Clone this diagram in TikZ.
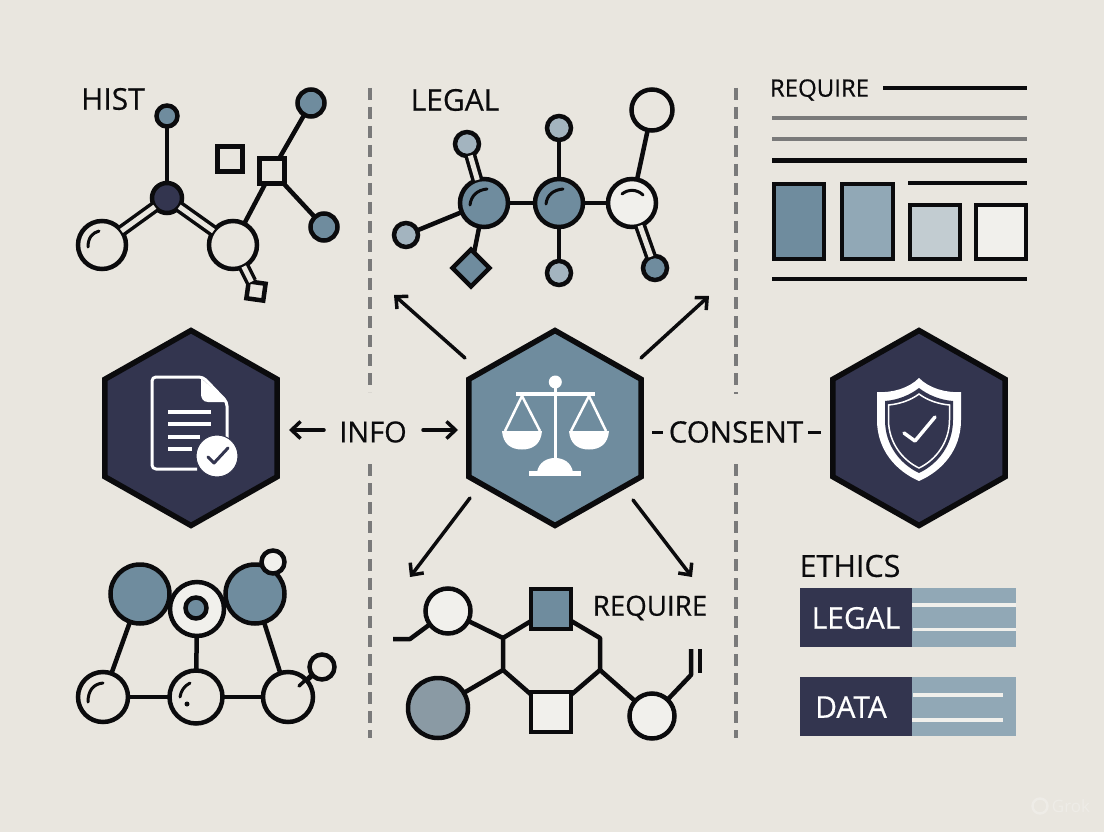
\documentclass[tikz,border=0pt]{standalone}
\usepackage{fontspec}
\setmainfont{Open Sans}
\newfontfamily\labfont[FakeBold=0.5]{Open Sans}
\usetikzlibrary{arrows.meta,shapes.geometric}
\definecolor{bgc}{HTML}{E9E6DF}
\definecolor{ink}{HTML}{0B0B0D}
\definecolor{navy}{HTML}{33354F}
\definecolor{teal}{HTML}{6F8C9E}
\definecolor{mist}{HTML}{A3B4BF}
\definecolor{steel}{HTML}{91A8B6}
\definecolor{pale}{HTML}{F1F0EC}
\definecolor{dashc}{HTML}{7A7A7A}
\definecolor{wmark}{HTML}{EEECE7}
\tikzset{
  atom/.style={circle,draw=ink,line width=4.5pt,inner sep=0pt,outer sep=0pt,minimum size=#1},
  sq/.style={rectangle,draw=ink,line width=4.5pt,inner sep=0pt,outer sep=0pt,minimum size=#1},
  bond/.style={draw=ink,line width=4.5pt},
  dbl/.style={draw=ink,line width=3.5pt,double=bgc,double distance=5pt},
  gloss/.style={draw=ink,line width=3pt,line cap=round},
  hexa/.style={regular polygon,regular polygon sides=6,shape border rotate=30,draw=ink,line width=5.5pt,fill=#1,minimum size=195pt,inner sep=0pt,outer sep=0pt,xscale=1.02,transform shape},
  sep/.style={draw=dashc,line width=3.5pt,dash pattern=on 12pt off 7pt},
  flow/.style={draw=ink,line width=3.5pt,line cap=round,-{Straight Barb[length=9pt,width=17pt,line width=3.5pt]}},
  label/.style={text=ink,inner sep=0pt,font=\labfont\fontsize{#1}{#1}\selectfont},
  rule/.style={draw=ink,line width=4.5pt},
  grule/.style={draw=dashc,line width=4pt},
  box/.style={rectangle,draw=ink,line width=4.5pt,inner sep=0pt,outer sep=0pt},
  wline/.style={draw=white,line width=3.5pt},
}
\begin{document}
\begin{tikzpicture}[x=1pt,y=-1pt]
\useasboundingbox (0,0) rectangle (1104,832);
\fill[bgc] (0,0) rectangle (1104,832);

% dashed separators
\coordinate (d1a) at (370,88); \coordinate (d1b) at (370,392);
\coordinate (d1c) at (370,464); \coordinate (d1d) at (370,738);
\coordinate (d2a) at (736,88); \coordinate (d2b) at (736,394);
\coordinate (d2c) at (736,464); \coordinate (d2d) at (736,738);
\draw[sep] (d1a) -- (d1b); \draw[sep] (d1c) -- (d1d);
\draw[sep] (d2a) -- (d2b); \draw[sep] (d2c) -- (d2d);

% --- top-left molecule
\node[label=30] (hist) at (113,99) {HIST};
\node[atom=21pt,fill=teal] (a1) at (167,116) {};
\node[atom=30pt,fill=navy] (a2) at (167,198) {};
\node[atom=48pt,fill=bgc] (a3) at (102,245) {};
\node[atom=48pt,fill=bgc] (a4) at (233,245) {};
\node[sq=25pt,fill=none] (a5) at (230,159) {};
\node[sq=25pt,fill=bgc] (a6) at (272,171) {};
\node[atom=27pt,fill=teal] (a7) at (311,103) {};
\node[atom=27pt,fill=teal] (a8) at (324,227) {};
\node[sq=17pt,fill=bgc,rotate=-8] (a9) at (256,291) {};
\draw[bond] (a1) -- (a2);
\draw[dbl] (a2) -- (a3);
\draw[dbl] (a2) -- (a4);
\draw[bond] (a4) -- (a6);
\draw[bond] (a6) -- (a7);
\draw[bond] (a6) -- (a8);
\draw[dbl] (a4) -- (a9);
\draw[gloss] (88,247) .. controls (88,238) and (92,233) .. (99,231);

% --- top-middle molecule
\node[label=30] (legal1) at (455,100) {LEGAL};
\node[atom=48pt,fill=teal] (b1) at (484,203) {};
\node[atom=48pt,fill=teal] (b2) at (559,203) {};
\node[atom=48pt,fill=pale] (b3) at (632,203) {};
\node[atom=24pt,fill=mist] (b4) at (467,144) {};
\node[atom=24pt,fill=mist] (b5) at (559,128) {};
\node[atom=41pt,fill=bgc] (b6) at (652,110) {};
\node[atom=24pt,fill=mist] (b7) at (406,235) {};
\node[diamond,aspect=1,draw=ink,line width=4.5pt,fill=teal,minimum size=37pt,inner sep=0pt,outer sep=0pt] (b8) at (471,268) {};
\node[atom=24pt,fill=mist] (b9) at (559,273) {};
\node[atom=24pt,fill=teal] (b10) at (655,268) {};
\draw[bond] (b1) -- (b2);
\draw[bond] (b2) -- (b3);
\draw[dbl] (b1) -- (b4);
\draw[bond] (b2) -- (b5);
\draw[bond] (b3) -- (b6);
\draw[bond] (b1) -- (b7);
\draw[bond] (b1) -- (b8);
\draw[bond] (b2) -- (b9);
\draw[dbl] (b3) -- (b10);
\draw[gloss] (470,205) .. controls (471,196) and (477,190) .. (487,189);
\draw[gloss] (546,204) .. controls (547,195) and (553,190) .. (563,189);
\draw[gloss] (622,194) .. controls (628,189) and (637,189) .. (643,195);

% --- top-right form
\node[label=24] (req1) at (819.5,90) {REQUIRE};
\coordinate (r1a) at (883,88); \coordinate (r1b) at (1027,88);
\coordinate (r2a) at (772,118); \coordinate (r2b) at (1027,118);
\coordinate (r3a) at (772,139); \coordinate (r3b) at (1027,139);
\coordinate (r4a) at (772,161); \coordinate (r4b) at (1027,161);
\coordinate (r5a) at (908,183); \coordinate (r5b) at (1027,183);
\coordinate (r6a) at (772,279); \coordinate (r6b) at (1027,279);
\draw[rule] (r1a) -- (r1b);
\draw[grule] (r2a) -- (r2b);
\draw[grule] (r3a) -- (r3b);
\draw[rule,line width=5pt] (r4a) -- (r4b);
\draw[rule] (r5a) -- (r5b);
\draw[rule] (r6a) -- (r6b);
\node[box,fill=teal,minimum width=50pt,minimum height=75pt] (f1) at (799,221.5) {};
\node[box,fill=steel,minimum width=51pt,minimum height=75pt] (f2) at (867.5,221.5) {};
\node[box,fill=mist!60!pale,minimum width=50pt,minimum height=54pt] (f3) at (935,232) {};
\node[box,fill=pale,minimum width=50pt,minimum height=54pt] (f4) at (1001,232) {};

% --- hexagons
\node[hexa=navy] (hexL) at (191,428) {};
\node[hexa=teal] (hexC) at (555,428) {};
\node[hexa=navy] (hexR) at (919,428) {};

% document icon
\draw[white,line width=3pt,line join=round,rounded corners=4pt]
  (227,446) -- (227,402) -- (203,377) -- (152,377) -- (152,469) -- (197,469);
\fill[white,line join=round] (201,378) -- (227,402) -- (208,402) .. controls (203,402) and (201,398) .. (201,394) -- cycle;
\draw[wline] (168,412) -- (211,412);
\draw[wline] (168,424) -- (211,424);
\draw[wline] (168,437) -- (200,437);
\draw[wline] (168,449) -- (192,449);
\node[circle,fill=white,draw=navy,line width=1pt,minimum size=42pt,inner sep=0pt] (badge) at (217,456) {};
\draw[navy,line width=3pt,line cap=round,line join=round] (208,457) -- (214,463) -- (228,448);

% scales icon
\fill[white] (553.5,385) rectangle (557,460);
\fill[white] (555.3,382) circle (6.5);
\fill[white] (516,392) rectangle (595,396);
\draw[white,line width=2.5pt,line join=round] (505,431) -- (522,396) -- (540,431);
\draw[white,line width=2.5pt,line join=round] (571,431) -- (589,396) -- (606,431);
\fill[white] (502,431) -- (542,431) .. controls (541,444) and (533,449.5) .. (522,449.5) .. controls (511,449.5) and (503,444) .. (502,431) -- cycle;
\fill[white] (569,431) -- (609,431) .. controls (608,444) and (600,449.5) .. (589,449.5) .. controls (578,449.5) and (570,444) .. (569,431) -- cycle;
\fill[white] (537,472) .. controls (539,462) and (547,458) .. (555,458) .. controls (563,458) and (571,462) .. (573,472) -- cycle;
\fill[white] (529,471) rectangle (581,476);

% shield icon
\fill[white] (919,378) .. controls (929,388) and (945,393) .. (961,392) -- (961,420)
  .. controls (961,450) and (942,471) .. (919,481)
  .. controls (896,471) and (877,450) .. (877,420) -- (877,392)
  .. controls (893,393) and (909,388) .. (919,378) -- cycle;
\fill[navy] (919,388) .. controls (928,395) and (940,400) .. (953,401) -- (953,420)
  .. controls (953,445) and (938,464) .. (919,473)
  .. controls (900,464) and (885,445) .. (885,420) -- (885,401)
  .. controls (898,400) and (910,395) .. (919,388) -- cycle;
\draw[white,line width=1.5pt] (919,394) .. controls (927,400) and (938,404) .. (949.5,405) -- (949.5,420)
  .. controls (949.5,442) and (936,460) .. (919,468)
  .. controls (902,460) and (888.5,442) .. (888.5,420) -- (888.5,405)
  .. controls (900,404) and (911,400) .. (919,394) -- cycle;
\draw[white,line width=3.5pt,line cap=round,line join=round] (904,433) -- (915,441) -- (935,417);

% flows
\coordinate (u1a) at (465,358); \coordinate (u1b) at (394,295);
\coordinate (u2a) at (641,358); \coordinate (u2b) at (709,296);
\coordinate (u3a) at (470,498); \coordinate (u3b) at (410,577);
\coordinate (u4a) at (633,500); \coordinate (u4b) at (692,577);
\draw[flow] (u1a) -- (u1b);
\draw[flow] (u2a) -- (u2b);
\draw[flow] (u3a) -- (u3b);
\draw[flow] (u4a) -- (u4b);
\node[label=29] (info) at (373,432) {INFO};
\coordinate (i1a) at (324,430); \coordinate (i1b) at (289,430);
\coordinate (i2a) at (423,430); \coordinate (i2b) at (458,430);
\draw[flow] (i1a) -- (i1b);
\draw[flow] (i2a) -- (i2b);
\node[label=29.5] (cons) at (736,432) {CONSENT};
\coordinate (c1a) at (652,432); \coordinate (c1b) at (663,432);
\coordinate (c2a) at (808,432); \coordinate (c2b) at (821,432);
\draw[ink,line width=3pt] (c1a) -- (c1b);
\draw[ink,line width=3pt] (c2a) -- (c2b);

% --- bottom-left molecule
\node[atom=59pt,fill=teal] (e1) at (140,594) {};
\node[atom=59pt,fill=teal] (e2) at (255,594) {};
\node[atom=54pt,fill=pale] (e3) at (197,609) {};
\node[atom=21pt,fill=teal] (e4) at (196,608) {};
\node[atom=23pt,fill=pale] (e5) at (273,562) {};
\node[atom=50pt,fill=bgc] (e6) at (103,697) {};
\node[atom=53pt,fill=bgc] (e7) at (196,697) {};
\node[atom=50pt,fill=bgc] (e8) at (288,697) {};
\node[atom=25pt,fill=bgc] (e9) at (322,667) {};
\draw[bond] (e1) -- (e6);
\draw[bond] (e3) -- (e7);
\draw[bond] (e2) -- (e8);
\draw[bond] (e6) -- (e7);
\draw[bond] (e7) -- (e8);
\draw[bond] (e8) -- (e9);
\coordinate (e10) at (299,686);
\coordinate (e11) at (311,675);
\draw[bond,line width=3.5pt,line cap=round] (e10) -- (e11);
\draw[gloss] (88,702) .. controls (88,691) and (93,684) .. (103,683);
\draw[gloss] (180,697) .. controls (181,691) and (184,686) .. (190,683);
\fill[ink] (187,704) circle (2.5);

% --- bottom-middle network
\node[atom=45pt,fill=pale] (g1) at (448,611) {};
\node[sq=40pt,fill=teal] (g2) at (551,609) {};
\node[label=27.7] (req2) at (650,608) {REQUIRE};
\node[atom=60pt,fill=steel!70!dashc] (g3) at (438,708) {};
\node[sq=40pt,fill=pale] (g4) at (551,712) {};
\node[atom=45pt,fill=pale] (g5) at (652,716) {};
\coordinate (j1) at (503,638); \coordinate (j2) at (503,670);
\coordinate (j3) at (600,638); \coordinate (j4) at (600,670);
\coordinate (t1) at (393,639); \coordinate (t2) at (410,639);
\coordinate (t3) at (691,675); \coordinate (t4) at (691,649);
\coordinate (t5) at (700,649); \coordinate (t6) at (700,673);
\draw[bond,line join=round] (g1) -- (j1) -- (j2) -- (g4);
\draw[bond,line join=round] (g2) -- (j1);
\draw[bond,line join=round] (g2) -- (j3) -- (j4) -- (g4);
\draw[bond] (j2) -- (g3);
\draw[bond] (j4) -- (g5);
\draw[bond,line join=round] (t1) -- (t2) -- (g1);
\draw[bond,line join=round] (g5) -- (t3) -- (t4);
\draw[bond] (t5) -- (t6);

% --- bottom-right panels
\node[label=30.5] (ethics) at (850,566) {ETHICS};
\fill[steel] (912,588) rectangle (1016,647);
\node[rectangle,fill=navy,minimum width=112pt,minimum height=59pt,inner sep=0pt] (p1) at (856,617.5) {};
\node[label=30,text=white] (legal2) at (856,618) {LEGAL};
\coordinate (p1a) at (912,605); \coordinate (p1b) at (1016,605);
\coordinate (p1c) at (913,629); \coordinate (p1d) at (1016,629);
\draw[draw=pale,line width=4pt] (p1a) -- (p1b);
\draw[draw=pale,line width=3pt] (p1c) -- (p1d);
\fill[steel] (912,677) rectangle (1016,736);
\node[rectangle,fill=navy,minimum width=112pt,minimum height=59pt,inner sep=0pt] (p2) at (856,706.5) {};
\node[label=30,text=white] (data) at (851,707) {DATA};
\coordinate (p2a) at (913,695); \coordinate (p2b) at (1003,695);
\coordinate (p2c) at (912,720); \coordinate (p2d) at (1003,720);
\draw[draw=pale,line width=4pt] (p2a) -- (p2b);
\draw[draw=pale,line width=4pt] (p2c) -- (p2d);

% faint mark, lower right
\node[circle,draw=wmark,line width=2.5pt,minimum size=15pt,inner sep=0pt] (wm) at (1040,806) {};
\node[inner sep=0pt,text=wmark,font=\fontsize{17}{17}\selectfont] (wmt) at (1071,806) {Grok};
\end{tikzpicture}
\end{document}
